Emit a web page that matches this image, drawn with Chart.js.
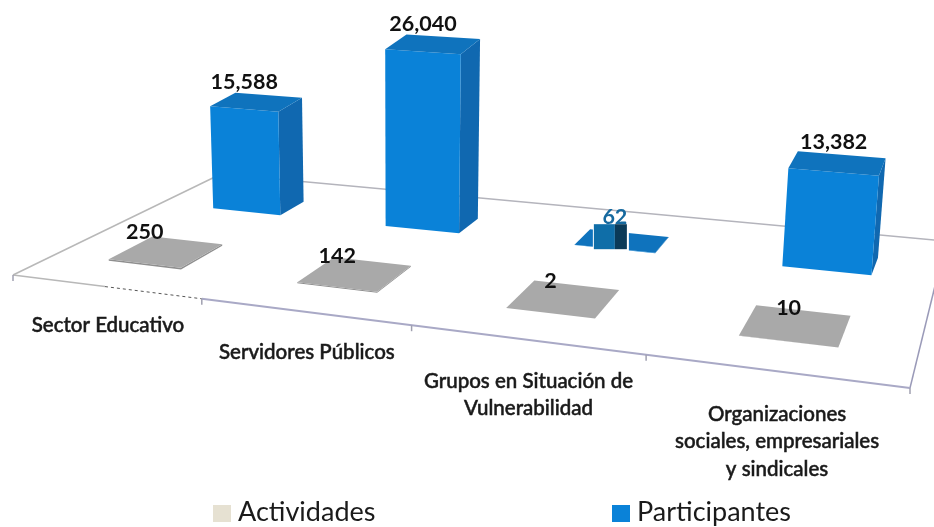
<!DOCTYPE html>
<html>
<head>
<meta charset="utf-8">
<title>Actividades y participantes</title>
<script src="https://cdn.jsdelivr.net/npm/chart.js@4"></script>
<style>
    html, body { margin: 0; background: #fff; }
    canvas { display: block; }
</style>
</head>
<body>
<canvas id="chart" width="934" height="527"></canvas>
<script>
const categories = [
    ['Sector Educativo'],
    ['Servidores Públicos'],
    ['Grupos en Situación de', 'Vulnerabilidad'],
    ['Organizaciones', 'sociales, empresariales', 'y sindicales']
];
const actividades = [250, 142, 2, 10];
const participantes = [15588, 26040, 62, 13382];
const yTicks = [0, 30000];

const FONT = 'Lato, sans-serif';

// floor corners on the page: front left, front right, back right, back left
const floor = [[13, 275], [910, 388], [946, 241], [221, 174]];

// square -> floor quad
function makeProjection(q) {
    const [x0, y0] = q[0], [x1, y1] = q[1], [x2, y2] = q[2], [x3, y3] = q[3];
    const dx1 = x1 - x2, dx2 = x3 - x2, sx = x0 - x1 + x2 - x3;
    const dy1 = y1 - y2, dy2 = y3 - y2, sy = y0 - y1 + y2 - y3;
    const det = dx1 * dy2 - dx2 * dy1;
    const g = (sx * dy2 - dx2 * sy) / det;
    const h = (dx1 * sy - sx * dy1) / det;
    const a = x1 - x0 + g * x1, b = x3 - x0 + h * x3;
    const d = y1 - y0 + g * y1, e = y3 - y0 + h * y3;
    return (u, v) => {
        const w = g * u + h * v + 1;
        return { x: (a * u + b * v + x0) / w, y: (d * u + e * v + y0) / w };
    };
}
const project = makeProjection(floor);

// a point lifted off the floor, with a little perspective on the verticals
function lifted(u, v, height) {
    const p = project(u, v);
    const H = height * (1 + (p.x - 400) * 0.0002);
    return { x: p.x + H * (p.x - 400) * 0.00016, y: p.y - H };
}

function face(ctx, pts, color) {
    ctx.beginPath();
    pts.forEach((p, i) => i ? ctx.lineTo(p.x, p.y) : ctx.moveTo(p.x, p.y));
    ctx.closePath();
    ctx.fillStyle = color;
    ctx.fill();
}

function line(ctx, a, b, color, width, dash) {
    ctx.beginPath();
    ctx.moveTo(a.x, a.y);
    ctx.lineTo(b.x, b.y);
    ctx.strokeStyle = color;
    ctx.lineWidth = width;
    ctx.setLineDash(dash || []);
    ctx.stroke();
    ctx.setLineDash([]);
}

const box3d = {
    id: 'box3d',
    beforeDatasetsDraw(chart) {
        const ctx = chart.ctx;
        const n = categories.length;
        ctx.save();
        // floor outline, the back and right edges run off the page
        line(ctx, project(0, 0), project(0, 1), '#b8b8b8', 1.5);
        line(ctx, project(0, 1), project(1, 1), '#b4b4bc', 1.5);
        line(ctx, project(1, 0), project(1, 1), '#9a9ab8', 1.5);
        line(ctx, project(0, 0), project(0.125, 0), '#b8b8b8', 1.5);
        line(ctx, project(0.125, 0), project(0.25, 0), '#555', 1, [3, 3]);
        line(ctx, project(0.25, 0), project(1, 0), '#a9a9c6', 2);
        // ticks under the front edge
        for (let i = 0; i <= n; i++) {
            const p = project(i / n, 0);
            line(ctx, p, { x: p.x, y: p.y + 6 }, '#a0a0b0', 1.5);
        }
        ctx.restore();
    },
    beforeDatasetDraw(chart, args) {
        const ctx = chart.ctx;
        const ds = chart.data.datasets[args.index];
        const area = chart.chartArea;
        args.meta.data.forEach((bar, i) => {
            const u = (bar.x - area.left) / area.width + ds.floorShift;
            const du = bar.width / area.width / 2;
            const v0 = ds.floorFront, v1 = ds.floorFront + ds.floorDepth;
            const h = bar.base - bar.y;
            const FL = lifted(u - du, v0, 0), FR = lifted(u + du, v0, 0), BR = lifted(u + du, v1, 0);
            const TFL = lifted(u - du, v0, h), TFR = lifted(u + du, v0, h);
            const TBR = lifted(u + du, v1, h), TBL = lifted(u - du, v1, h);
            face(ctx, [FR, BR, TBR, TFR], ds.sideColor);
            face(ctx, [FL, FR, TFR, TFL], ds.backgroundColor);
            face(ctx, [TFL, TFR, TBR, TBL], ds.topColor);

            const cx = (TFL.x + TFR.x) / 2;
            const frontY = (FL.y + FR.y) / 2;
            const tiny = ds.label === 'Participantes' && ds.data[i] < 100;
            if (tiny) {
                // the small stub sitting on the flat blue tile
                ctx.fillStyle = '#fff';
                ctx.fillRect(cx - 22, frontY - 24, 36, 26);
                ctx.fillStyle = '#0f6ea8';
                ctx.fillRect(cx - 21, frontY - 25, 21, 25);
                ctx.fillStyle = '#0a3a58';
                ctx.fillRect(cx, frontY - 25, 12, 25);
            }
            ctx.fillStyle = tiny ? '#15699f' : '#111';
            ctx.font = 'bold 21.5px ' + FONT;
            ctx.textAlign = 'center';
            ctx.textBaseline = 'middle';
            const labelY = (TBL.y + TBR.y) / 2 + ds.labelLift + i * ds.labelStep - (tiny ? 3 : 0);
            ctx.fillText(ds.data[i].toLocaleString('en-US'), cx, labelY);
        });
        return false;
    },
    afterDraw(chart) {
        const ctx = chart.ctx;
        ctx.save();
        ctx.fillStyle = '#1a1a1a';
        ctx.strokeStyle = '#1a1a1a';
        ctx.lineWidth = 0.5;
        ctx.textAlign = 'center';
        ctx.textBaseline = 'middle';
        ctx.font = '500 20.5px ' + FONT;
        categories.forEach((lines, i) => {
            const p = project((i + 0.5) / categories.length, 0);
            lines.forEach((text, k) => {
                const y = p.y + 39 + i * 1.4 + k * 27.5;
                ctx.fillText(text, p.x + 3, y);
                ctx.strokeText(text, p.x + 3, y);
            });
        });
        // legend
        ctx.font = '27px ' + FONT;
        ctx.textAlign = 'left';
        chart.data.datasets.forEach(ds => {
            ctx.fillStyle = ds.legendColor;
            ctx.fillRect(ds.legendX, 505, 18, 17);
            ctx.fillStyle = '#1a1a1a';
            ctx.fillText(ds.label, ds.legendX + 25, 512);
        });
        ctx.restore();
    }
};

new Chart(document.getElementById('chart'), {
    type: 'bar',
    data: {
        labels: categories,
        datasets: [
            {
                label: 'Participantes',
                data: participantes,
                grouped: false,
                backgroundColor: '#0a82d8',
                sideColor: '#1068b0',
                topColor: '#0f73bd',
                legendColor: '#0a82d8',
                legendX: 612,
                floorFront: 0.665,
                floorDepth: 0.14,
                floorShift: 0.005,
                labelLift: -13,
                labelStep: 0,
                barPercentage: 0.4,
                categoryPercentage: 1
            },
            {
                label: 'Actividades',
                data: actividades,
                grouped: false,
                backgroundColor: '#8f8f8f',
                sideColor: '#8f8f8f',
                topColor: '#a9a9a9',
                legendColor: '#e6e1d2',
                legendX: 213,
                floorFront: 0.17,
                floorDepth: 0.2,
                floorShift: 0,
                labelLift: -8,
                labelStep: 2,
                barPercentage: 0.395,
                categoryPercentage: 1
            }
        ]
    },
    options: {
        responsive: false,
        animation: false,
        layout: { padding: { bottom: 323 } },
        plugins: { legend: { display: false }, tooltip: { enabled: false } },
        scales: {
            x: { display: false },
            y: { display: false, min: yTicks[0], max: yTicks[1] }
        }
    },
    plugins: [box3d]
});
</script>
</body>
</html>
